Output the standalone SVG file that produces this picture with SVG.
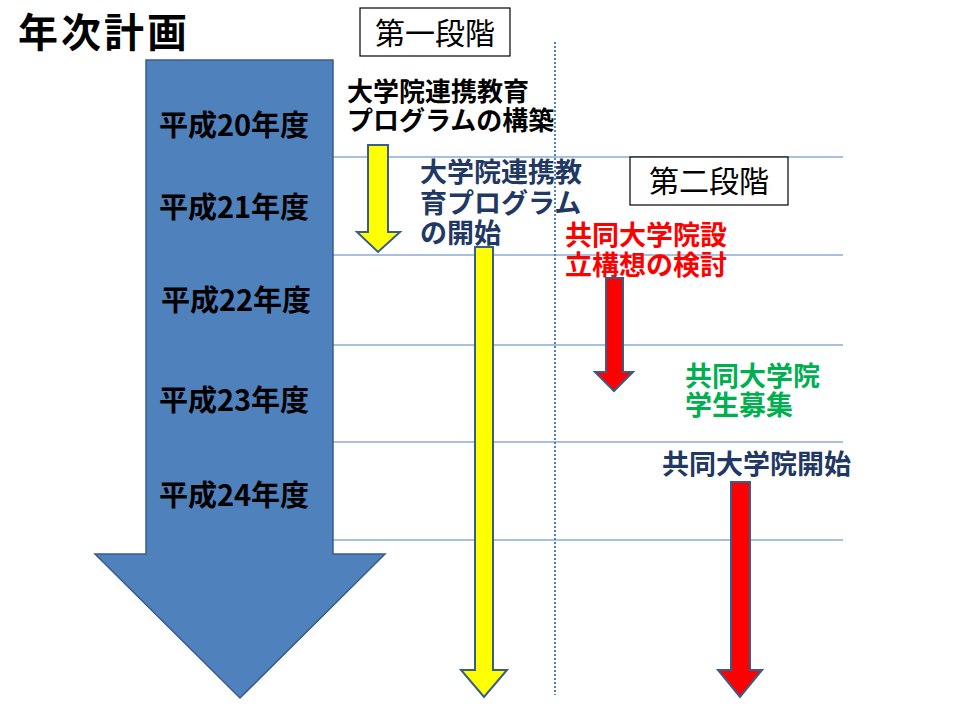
<svg xmlns="http://www.w3.org/2000/svg" width="960" height="720" viewBox="0 0 960 720">
<style>
  text { font-family: "Noto Sans CJK JP", "Noto Sans", sans-serif; }
  .title { font-size: 40px; font-weight: bold; fill: #000; letter-spacing: 3px; }
  .year { font-size: 29px; font-weight: bold; fill: #000; text-anchor: middle; }
  .stage { font-size: 30px; fill: #000; text-anchor: middle; }
  .box { fill: #fff; stroke: #000; stroke-width: 1.2; }
  .grid { stroke: #4f81bd; stroke-width: 1.2; fill: none; }
  .dotted { stroke: #4f81bd; stroke-width: 2; stroke-dasharray: 2 2; fill: none; }
  .yarrow { fill: #ffff00; stroke: #385d8a; stroke-width: 2; stroke-linejoin: miter; }
  .rarrow { fill: #ff0000; stroke: #385d8a; stroke-width: 2; stroke-linejoin: miter; }
  .lbl { font-weight: bold; }
</style>
<rect width="960" height="720" fill="#fff"/>

<g id="gridlines">
  <line class="grid" x1="333" y1="157" x2="843" y2="157"/>
  <line class="grid" x1="333" y1="255" x2="843" y2="255"/>
  <line class="grid" x1="333" y1="345" x2="843" y2="345"/>
  <line class="grid" x1="333" y1="442" x2="843" y2="442"/>
  <line class="grid" x1="333" y1="540" x2="843" y2="540"/>
  <line class="dotted" x1="555" y1="42" x2="555" y2="695"/>
</g>

<g id="title">
  <text class="title" x="18" y="47">年次計画</text>
</g>

<g id="timeline">
  <polygon points="146,60 333,60 333,554 385,554 240,698 95,554 146,554" fill="#4f81bd" stroke="#385d8a" stroke-width="1.5"/>
  <text class="year" x="234" y="136">平成20年度</text>
  <text class="year" x="234" y="218">平成21年度</text>
  <text class="year" x="236" y="311">平成22年度</text>
  <text class="year" x="234" y="411">平成23年度</text>
  <text class="year" x="234" y="506">平成24年度</text>
</g>

<g id="stage1">
  <rect class="box" x="360" y="8" width="150" height="48"/>
  <text class="stage" x="435" y="44">第一段階</text>
</g>

<g id="stage2">
  <rect class="box" x="630" y="157" width="158" height="48"/>
  <text class="stage" x="709" y="192">第二段階</text>
</g>

<g id="build-program">
  <text class="lbl" x="347" y="101" font-size="26" fill="#000"><tspan x="347" y="101">大学院連携教育</tspan><tspan x="347" y="130">プログラムの構築</tspan></text>
</g>

<g id="start-program">
  <text class="lbl" x="420" y="182" font-size="27" fill="#1f3864"><tspan x="420" y="182">大学院連携教</tspan><tspan x="420" y="213">育プログラム</tspan><tspan x="420" y="243">の開始</tspan></text>
</g>

<g id="plan-joint">
  <text class="lbl" x="565" y="245" font-size="27" fill="#ff0000"><tspan x="565" y="245">共同大学院設</tspan><tspan x="565" y="275">立構想の検討</tspan></text>
</g>

<g id="recruit">
  <text class="lbl" x="685" y="386" font-size="27" fill="#00b050"><tspan x="685" y="386">共同大学院</tspan><tspan x="685" y="415">学生募集</tspan></text>
</g>

<g id="start-joint">
  <text class="lbl" x="662" y="474" font-size="27" fill="#1f3864">共同大学院開始</text>
</g>

<g id="connectors">
  <polygon class="yarrow" points="368,145 388,145 388,232 400,232 378,252 357,232 368,232"/>
  <polygon class="yarrow" points="475,247 493,247 493,670 507,670 484,697 461,670 475,670"/>
  <polygon class="rarrow" points="606,278 623,278 623,372 633,372 614,391 595,372 606,372"/>
  <polygon class="rarrow" points="731,482 750,482 750,670 762,670 740,697 718,670 731,670"/>
</g>
</svg>
